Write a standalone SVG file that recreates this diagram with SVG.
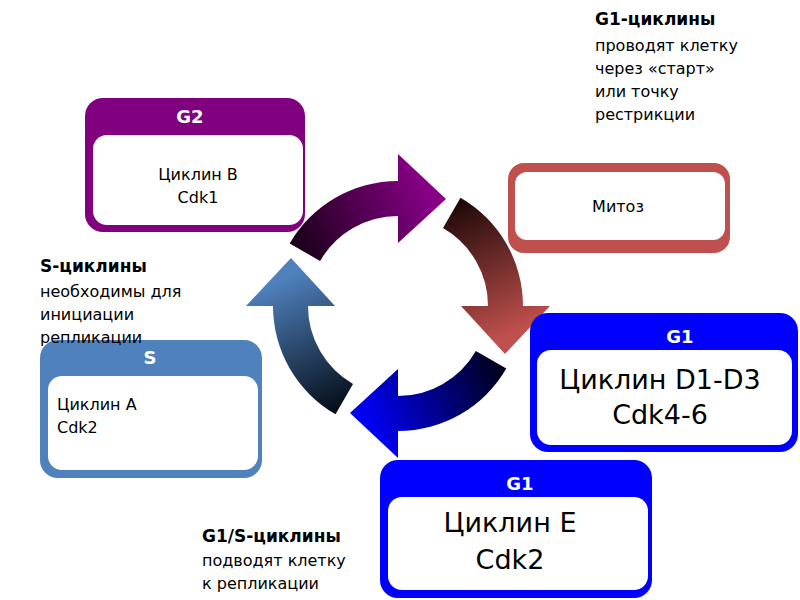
<svg xmlns="http://www.w3.org/2000/svg" width="800" height="600" viewBox="0 0 800 600">
<style>
text{font-family:"DejaVu Sans","Liberation Sans",sans-serif;fill:#000}
.h{fill:#fff;font-weight:bold;font-size:18px;text-anchor:middle}
.inner{fill:#fff}
.c{text-anchor:middle}
.n{font-size:16px}
.b{font-size:17px;font-weight:bold}
.big{font-size:27px;text-anchor:middle}
</style>
<defs>
<linearGradient id="gp" gradientUnits="userSpaceOnUse" x1="-100" y1="-50" x2="30" y2="-110"><stop offset="0" stop-color="#1a0018"/><stop offset="1" stop-color="#850085"/></linearGradient>
<linearGradient id="gr" gradientUnits="userSpaceOnUse" x1="-100" y1="-50" x2="30" y2="-110"><stop offset="0" stop-color="#1e0808"/><stop offset="1" stop-color="#c0504d"/></linearGradient>
<linearGradient id="gb" gradientUnits="userSpaceOnUse" x1="-100" y1="-50" x2="30" y2="-110"><stop offset="0" stop-color="#000018"/><stop offset="1" stop-color="#0000f0"/></linearGradient>
<linearGradient id="gs" gradientUnits="userSpaceOnUse" x1="-100" y1="-50" x2="30" y2="-110"><stop offset="0" stop-color="#050d18"/><stop offset="1" stop-color="#4f81bd"/></linearGradient>
<path id="arr" d="M -77.9,-45 A 90 90 0 0 1 0,-90 L 0,-63 L 48,-107 L 0,-152 L 0,-125 A 125 125 0 0 0 -108.3,-62.5 Z"/>
</defs>
<g id="connectors">
<use href="#arr" fill="url(#gp)" transform="translate(398,306)"/>
<use href="#arr" fill="url(#gr)" transform="translate(398,306) rotate(90)"/>
<use href="#arr" fill="url(#gb)" transform="translate(398,306) rotate(180)"/>
<use href="#arr" fill="url(#gs)" transform="translate(398,306) rotate(270)"/>
</g>
<g id="g2">
<rect x="85" y="98" width="220" height="134" rx="18" fill="#800080"/>
<text class="h" x="190" y="123">G2</text>
<rect class="inner" x="93" y="135" width="210" height="90" rx="14"/>
<text class="n c" x="198" y="180">Циклин В</text>
<text class="n c" x="198" y="203">Cdk1</text>
</g>
<g id="mitoz">
<rect x="508" y="163" width="222" height="90" rx="16" fill="#c0504d"/>
<rect class="inner" x="515" y="172" width="210" height="68" rx="12"/>
<text class="n c" x="618" y="212">Митоз</text>
</g>
<g id="g1a">
<rect x="530" y="313" width="268" height="139" rx="18" fill="#0000ff"/>
<text class="h" x="680" y="343">G1</text>
<rect class="inner" x="537" y="350" width="255" height="95" rx="14"/>
<text class="big" x="660" y="389">Циклин D1-D3</text>
<text class="big" x="660" y="424">Cdk4-6</text>
</g>
<g id="g1b">
<rect x="380" y="460" width="272" height="138" rx="18" fill="#0000ff"/>
<text class="h" x="520" y="490">G1</text>
<rect class="inner" x="388" y="497" width="260" height="93" rx="14"/>
<text class="big" x="510" y="532">Циклин Е</text>
<text class="big" x="510" y="569">Cdk2</text>
</g>
<g id="s">
<rect x="40" y="340" width="222" height="138" rx="18" fill="#4f81bd"/>
<text class="h" x="150" y="364">S</text>
<rect class="inner" x="48" y="376" width="210" height="94" rx="14"/>
<text class="n" x="57" y="410">Циклин А</text>
<text class="n" x="57" y="433">Cdk2</text>
</g>
<g id="note-g1">
<text class="b" x="595" y="25">G1-циклины</text>
<text class="n" x="595" y="51">проводят клетку</text>
<text class="n" x="595" y="74">через «старт»</text>
<text class="n" x="595" y="97">или точку</text>
<text class="n" x="595" y="120">рестрикции</text>
</g>
<g id="note-s">
<text class="b" x="40" y="272">S-циклины</text>
<text class="n" x="40" y="297">необходимы для</text>
<text class="n" x="40" y="320">инициации</text>
<text class="n" x="40" y="343">репликации</text>
</g>
<g id="note-g1s">
<text class="b" x="202" y="542">G1/S-циклины</text>
<text class="n" x="202" y="566">подводят клетку</text>
<text class="n" x="202" y="589">к репликации</text>
</g>
</svg>
